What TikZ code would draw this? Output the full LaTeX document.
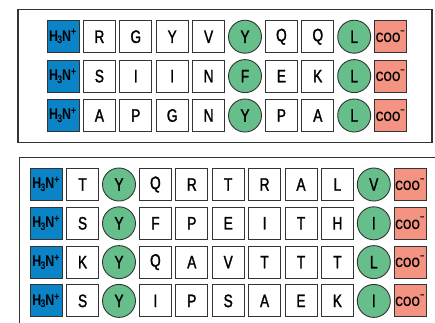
\documentclass[tikz,border=0pt]{standalone}
\usepackage{fontspec}
\setmainfont{Liberation Sans}[FakeStretch=0.76, RawFeature={embolden=1.5}]
\newfontfamily\termfont{Liberation Sans}[FakeStretch=0.8]
\usetikzlibrary{positioning}
\definecolor{nterm}{HTML}{0A84C6}
\definecolor{anchorgreen}{HTML}{66BF8B}
\definecolor{cterm}{HTML}{F59382}
\definecolor{bk80}{HTML}{333333}
\tikzset{
  resbox/.style={
    rectangle, draw=bk80, fill=white, line width=0.9pt,
    minimum width=32pt, minimum height=32pt, inner sep=0pt,
    font=\fontsize{18}{18}\selectfont
  },
  anchorres/.style={
    circle, draw=bk80, fill=anchorgreen, line width=0.9pt,
    minimum size=33pt, inner sep=0pt,
    font=\fontsize{18}{18}\selectfont
  },
  ntermbox/.style={resbox, fill=nterm,
    font=\termfont\bfseries\fontsize{15.5}{15.5}\selectfont},
  ctermbox/.style={resbox, fill=cterm,
    font=\termfont\bfseries\fontsize{13.5}{13.5}\selectfont},
  panel/.style={draw=bk80, line width=1.2pt}
}
\newcommand{\nlabel}{H\kern-0.8pt\textsubscript{3}\kern-0.5pt N\textsuperscript{+}}
\newcommand{\clabel}{\raisebox{-2pt}{COO\textsuperscript{\raisebox{0.6ex}{\char"2212}}}}

\begin{document}
\begin{tikzpicture}[x=1pt, y=-1pt]
  \useasboundingbox (0,0) rectangle (435,322);
  \clip (0,0) rectangle (435,322);

  % top panel: anchors at P5 and P9
  \draw[panel] (18,9.5) rectangle (432,142.7);
  \foreach \seq [count=\r] in {{R,G,Y,V,Y,Q,Q,L},{S,I,I,N,F,E,K,L},{A,P,G,N,Y,P,A,L}} {
    \node[ntermbox] (t\r-0) at (63, {36.7+39.4*(\r-1)}) {\nlabel};
    \foreach \aa [count=\c] in \seq {
      \ifnum\c=5 \def\sty{anchorres}\else
        \ifnum\c=8 \def\sty{anchorres}\else \def\sty{resbox}\fi\fi
      \node[\sty] (t\r-\c) at ({63+36.4*\c}, {36.7+39.4*(\r-1)}) {\aa};
    }
    \node[ctermbox] (t\r-9) at ({63+36.4*9}, {36.7+39.4*(\r-1)}) {\clabel};
  }

  % bottom panel: anchors at P2 and P10
  \draw[panel] (19.3,157.3) rectangle (440,330);
  \foreach \seq [count=\r] in {{T,Y,Q,R,T,R,A,L,V},{S,Y,F,P,E,I,T,H,I},
                               {K,Y,Q,A,V,T,T,T,L},{S,Y,I,P,S,A,E,K,I}} {
    \node[ntermbox] (b\r-0) at (46.2, {184.5+38.8*(\r-1)}) {\nlabel};
    \foreach \aa [count=\c] in \seq {
      \ifnum\c=2 \def\sty{anchorres}\else
        \ifnum\c=9 \def\sty{anchorres}\else \def\sty{resbox}\fi\fi
      \node[\sty] (b\r-\c) at ({46.2+36.4*\c}, {184.5+38.8*(\r-1)}) {\aa};
    }
    \node[ctermbox] (b\r-10) at ({46.2+36.4*10}, {184.5+38.8*(\r-1)}) {\clabel};
  }
\end{tikzpicture}
\end{document}
